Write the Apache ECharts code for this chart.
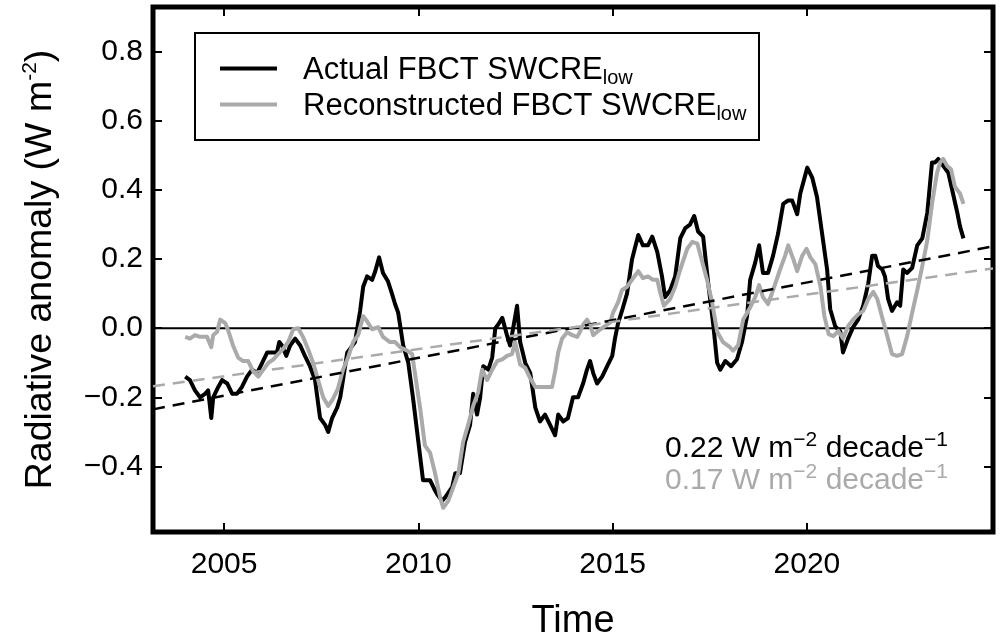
<!DOCTYPE html>
<html><head><meta charset="utf-8">
<script src="https://cdn.jsdelivr.net/npm/echarts@6/dist/echarts.min.js"></script>
<style>html,body{margin:0;padding:0;background:#fff}#c{width:1002px;height:640px}</style>
</head><body><div id="c"></div>
<script>
const actualYears = [2004.00,2004.12,2004.25,2004.38,2004.51,2004.59,2004.67,2004.72,2004.85,2004.95,2005.08,2005.21,2005.33,2005.46,2005.59,2005.72,2005.85,2005.98,2006.11,2006.24,2006.36,2006.42,2006.49,2006.60,2006.70,2006.83,2006.96,2007.08,2007.21,2007.34,2007.47,2007.60,2007.68,2007.78,2007.91,2007.99,2008.06,2008.17,2008.24,2008.37,2008.50,2008.58,2008.68,2008.81,2008.89,2008.99,2009.09,2009.22,2009.32,2009.40,2009.48,2009.61,2009.74,2009.86,2009.99,2010.12,2010.30,2010.43,2010.48,2010.61,2010.69,2010.87,2010.95,2011.07,2011.20,2011.33,2011.41,2011.51,2011.59,2011.67,2011.80,2011.90,2011.98,2012.05,2012.16,2012.28,2012.36,2012.44,2012.54,2012.62,2012.75,2012.88,2013.01,2013.13,2013.26,2013.39,2013.52,2013.60,2013.73,2013.85,2013.98,2014.11,2014.24,2014.34,2014.42,2014.50,2014.60,2014.73,2014.86,2014.99,2015.06,2015.14,2015.24,2015.37,2015.50,2015.66,2015.78,2015.91,2016.02,2016.15,2016.27,2016.35,2016.48,2016.61,2016.74,2016.87,2016.99,2017.10,2017.20,2017.33,2017.46,2017.59,2017.69,2017.77,2017.90,2018.05,2018.20,2018.33,2018.46,2018.54,2018.67,2018.77,2018.87,2019.00,2019.13,2019.26,2019.39,2019.52,2019.62,2019.75,2019.83,2020.01,2020.14,2020.26,2020.39,2020.52,2020.60,2020.73,2020.86,2020.93,2021.06,2021.19,2021.32,2021.45,2021.58,2021.68,2021.76,2021.83,2021.94,2022.01,2022.09,2022.19,2022.32,2022.40,2022.48,2022.58,2022.71,2022.84,2022.97,2023.10,2023.22,2023.30,2023.38,2023.51,2023.64,2023.76,2023.87,2023.94,2024.03];
const actualValues = [-0.14,-0.15,-0.18,-0.20,-0.19,-0.18,-0.26,-0.20,-0.17,-0.15,-0.16,-0.19,-0.19,-0.17,-0.14,-0.12,-0.13,-0.10,-0.07,-0.07,-0.07,-0.04,-0.05,-0.08,-0.05,-0.03,-0.05,-0.08,-0.11,-0.15,-0.26,-0.28,-0.30,-0.26,-0.23,-0.20,-0.15,-0.07,-0.06,-0.04,0.05,0.12,0.15,0.14,0.165,0.205,0.16,0.135,0.10,0.07,0.045,-0.05,-0.10,-0.20,-0.32,-0.44,-0.44,-0.47,-0.48,-0.50,-0.49,-0.46,-0.42,-0.42,-0.33,-0.28,-0.19,-0.25,-0.20,-0.11,-0.12,-0.085,0.0,0.01,0.03,-0.02,-0.05,0.0,0.065,-0.04,-0.10,-0.13,-0.23,-0.27,-0.25,-0.28,-0.31,-0.25,-0.27,-0.26,-0.20,-0.20,-0.16,-0.12,-0.095,-0.13,-0.16,-0.14,-0.11,-0.08,-0.03,0.015,0.05,0.10,0.20,0.27,0.24,0.24,0.265,0.22,0.15,0.09,0.11,0.15,0.26,0.29,0.30,0.325,0.28,0.265,0.13,0.01,-0.10,-0.12,-0.095,-0.11,-0.09,-0.04,0.035,0.14,0.19,0.24,0.16,0.16,0.21,0.275,0.36,0.37,0.37,0.33,0.39,0.465,0.435,0.38,0.275,0.17,0.055,0.005,-0.01,-0.07,-0.03,0.003,0.025,0.065,0.13,0.21,0.21,0.18,0.17,0.15,0.085,0.05,0.075,0.065,0.17,0.16,0.175,0.24,0.26,0.335,0.48,0.48,0.49,0.47,0.45,0.39,0.335,0.295,0.26];
const reconYears = [2004.00,2004.12,2004.25,2004.38,2004.56,2004.67,2004.72,2004.82,2004.90,2005.03,2005.10,2005.23,2005.36,2005.49,2005.62,2005.75,2005.88,2006.01,2006.14,2006.27,2006.39,2006.52,2006.65,2006.78,2006.91,2007.03,2007.16,2007.29,2007.42,2007.55,2007.68,2007.80,2007.93,2008.06,2008.19,2008.32,2008.45,2008.58,2008.68,2008.81,2008.97,2009.09,2009.27,2009.40,2009.53,2009.71,2009.84,2009.97,2010.05,2010.17,2010.30,2010.43,2010.56,2010.64,2010.77,2010.90,2011.03,2011.15,2011.28,2011.41,2011.54,2011.64,2011.77,2011.90,2012.03,2012.16,2012.28,2012.41,2012.49,2012.62,2012.75,2012.88,2013.01,2013.13,2013.26,2013.44,2013.52,2013.60,2013.70,2013.83,2013.96,2014.09,2014.17,2014.24,2014.34,2014.42,2014.50,2014.63,2014.81,2014.94,2015.01,2015.14,2015.24,2015.37,2015.53,2015.66,2015.78,2015.91,2016.04,2016.15,2016.22,2016.32,2016.48,2016.61,2016.74,2016.92,2017.05,2017.18,2017.31,2017.43,2017.56,2017.69,2017.84,2018.02,2018.10,2018.23,2018.36,2018.54,2018.67,2018.77,2018.87,2019.00,2019.13,2019.31,2019.44,2019.52,2019.65,2019.75,2019.88,2019.99,2020.09,2020.22,2020.35,2020.45,2020.56,2020.68,2020.81,2020.93,2021.06,2021.19,2021.32,2021.45,2021.58,2021.71,2021.81,2021.94,2022.07,2022.19,2022.32,2022.45,2022.58,2022.71,2022.84,2022.97,2023.10,2023.22,2023.35,2023.43,2023.51,2023.61,2023.71,2023.81,2023.94,2024.03];
const reconValues = [-0.025,-0.03,-0.02,-0.025,-0.025,-0.055,-0.02,-0.01,0.025,0.015,-0.005,-0.05,-0.085,-0.095,-0.095,-0.125,-0.14,-0.12,-0.10,-0.09,-0.075,-0.06,-0.04,-0.003,0.0,-0.025,-0.06,-0.10,-0.15,-0.20,-0.225,-0.205,-0.175,-0.12,-0.085,-0.04,-0.02,0.035,0.02,-0.003,0.003,-0.025,-0.04,-0.04,-0.055,-0.065,-0.075,-0.175,-0.235,-0.34,-0.36,-0.42,-0.49,-0.52,-0.50,-0.46,-0.42,-0.33,-0.28,-0.225,-0.185,-0.12,-0.15,-0.12,-0.095,-0.09,-0.08,-0.075,-0.04,-0.105,-0.115,-0.145,-0.17,-0.17,-0.17,-0.17,-0.125,-0.07,-0.03,-0.012,-0.02,-0.025,-0.008,0.01,0.025,0.01,-0.02,-0.008,0.007,0.017,0.045,0.075,0.11,0.12,0.145,0.165,0.145,0.15,0.14,0.14,0.105,0.065,0.085,0.12,0.17,0.23,0.25,0.245,0.19,0.14,0.075,-0.01,-0.04,-0.055,-0.065,-0.05,0.025,0.06,0.09,0.125,0.09,0.07,0.11,0.17,0.21,0.24,0.20,0.165,0.21,0.23,0.205,0.185,0.12,0.035,-0.017,-0.023,-0.008,-0.03,0.006,0.025,0.04,0.05,0.085,0.105,0.085,0.03,-0.023,-0.075,-0.08,-0.075,-0.023,0.045,0.11,0.18,0.255,0.36,0.45,0.48,0.49,0.47,0.46,0.41,0.39,0.36];
const trendYears = [2003.17, 2024.79];
const actualTrend = [-0.235, 0.237];
const reconTrend = [-0.168, 0.173];
const zeroLine = [0, 0];
const xTicks = [2005, 2010, 2015, 2020];
const yTicks = [-0.4, -0.2, 0, 0.2, 0.4, 0.6, 0.8];
const slopeLabels = ['0.22', '0.17'];
const seriesNames = ['Actual FBCT SWCRE', 'Reconstructed FBCT SWCRE'];

const FONT = "'Liberation Sans', Arial, Helvetica, sans-serif";
const BLACK = '#000000', GRAY = '#aaaaaa';
const zip = (xs, ys) => xs.map((x, i) => [x, ys[i]]);
const X_MIN = 2003.17, X_MAX = 2024.79, Y_MIN = -0.59, Y_MAX = 0.93;

const chart = echarts.init(document.getElementById('c'), null, {renderer: 'canvas'});
const tickStyle = {inside: true, length: 9, lineStyle: {width: 2, color: BLACK}};
const hiddenLine = {show: false, onZero: false};
chart.setOption({
  animation: false,
  backgroundColor: '#ffffff',
  textStyle: {fontFamily: FONT},
  grid: {left: 153, right: 9, top: 7, bottom: 108, show: true, borderColor: BLACK, borderWidth: 5,
    containLabel: false, outerBoundsMode: 'none'},
  xAxis: [{
    type: 'value', min: X_MIN, max: X_MAX, position: 'bottom',
    axisLine: hiddenLine, splitLine: {show: false},
    axisTick: Object.assign({customValues: xTicks}, tickStyle),
    axisLabel: {customValues: xTicks, fontSize: 30, color: BLACK, margin: 18, fontFamily: FONT,
      formatter: v => String(Math.round(v))},
    name: 'Time', nameLocation: 'middle', nameGap: 71,
    nameTextStyle: {fontSize: 38, color: BLACK, fontFamily: FONT}
  }, {
    type: 'value', min: X_MIN, max: X_MAX, position: 'top',
    axisLine: hiddenLine, splitLine: {show: false},
    axisTick: Object.assign({customValues: xTicks}, tickStyle),
    axisLabel: {show: false}
  }],
  yAxis: [{
    type: 'value', min: Y_MIN, max: Y_MAX, position: 'left',
    axisLine: hiddenLine, splitLine: {show: false},
    axisTick: Object.assign({customValues: yTicks}, tickStyle),
    axisLabel: {customValues: yTicks, fontSize: 30, color: BLACK, margin: 10, fontFamily: FONT,
      formatter: v => (v < -1e-9 ? '\u2212' : '') + Math.abs(v).toFixed(1)},
    name: 'Radiative anomaly (W m{sup|-2})', nameLocation: 'middle', nameGap: 91, nameRotate: 90,
    nameTextStyle: {fontSize: 37.5, lineHeight: 42, color: BLACK, fontFamily: FONT,
      rich: {sup: {fontSize: 21, lineHeight: 21, verticalAlign: 'top', fontFamily: FONT, color: BLACK}}}
  }, {
    type: 'value', min: Y_MIN, max: Y_MAX, position: 'right',
    axisLine: hiddenLine, splitLine: {show: false},
    axisTick: Object.assign({customValues: yTicks}, tickStyle),
    axisLabel: {show: false}
  }],
  legend: {
    data: seriesNames, orient: 'vertical', left: 220, top: 53,
    itemWidth: 57, itemHeight: 4, itemGap: 1, icon: 'rect', padding: 0,
    selectedMode: false,
    formatter: name => '{g|}{n|' + name + '}{s|low}',
    textStyle: {color: BLACK, fontSize: 31, fontFamily: FONT, rich: {
      g: {width: 21},
      n: {fontSize: 31, lineHeight: 31, padding: [2, 0, 0, 0], verticalAlign: 'top', fontFamily: FONT, color: BLACK},
      s: {fontSize: 20, lineHeight: 20, padding: [15, 0, 0, 0], verticalAlign: 'top', fontFamily: FONT, color: BLACK}
    }}
  },
  graphic: [{
    type: 'rect', z: 100, shape: {x: 195, y: 33, width: 564, height: 107},
    style: {fill: null, stroke: BLACK, lineWidth: 2}
  }, {
    type: 'text', z: 100, x: 948, y: 449,
    style: {
      text: slopeLabels[0] + ' W m{sup|\u22122} decade{sup|\u22121}',
      fill: BLACK, fontSize: 30, lineHeight: 38, fontFamily: FONT, align: 'right', verticalAlign: 'middle',
      rich: {sup: {fontSize: 21, lineHeight: 21, verticalAlign: 'top', fill: BLACK, fontFamily: FONT}}
    }
  }, {
    type: 'text', z: 100, x: 948, y: 481,
    style: {
      text: slopeLabels[1] + ' W m{sup|\u22122} decade{sup|\u22121}',
      fill: GRAY, fontSize: 30, lineHeight: 38, fontFamily: FONT, align: 'right', verticalAlign: 'middle',
      rich: {sup: {fontSize: 21, lineHeight: 21, verticalAlign: 'top', fill: GRAY, fontFamily: FONT}}
    }
  }],
  series: [{
    name: 'zero', type: 'line', data: zip(trendYears, zeroLine), symbol: 'none', silent: true,
    lineStyle: {color: BLACK, width: 2}, z: 1
  }, {
    name: seriesNames[0], type: 'line', data: zip(actualYears, actualValues), symbol: 'none',
    color: BLACK, lineStyle: {color: BLACK, width: 4, join: 'round'}, z: 2
  }, {
    name: seriesNames[1], type: 'line', data: zip(reconYears, reconValues), symbol: 'none',
    color: GRAY, lineStyle: {color: GRAY, width: 4, join: 'round'}, z: 3
  }, {
    name: 'trendA', type: 'line', data: zip(trendYears, actualTrend), symbol: 'none', silent: true,
    lineStyle: {color: BLACK, width: 2.5, type: [12, 8]}, z: 4
  }, {
    name: 'trendR', type: 'line', data: zip(trendYears, reconTrend), symbol: 'none', silent: true,
    lineStyle: {color: GRAY, width: 2.5, type: [12, 8]}, z: 4
  }]
});
</script></body></html>
